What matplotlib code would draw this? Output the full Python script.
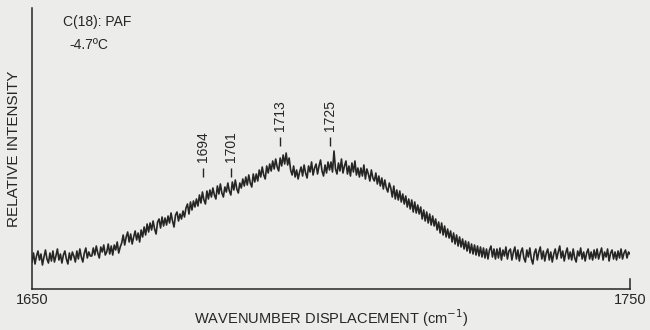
import matplotlib.pyplot as plt
import numpy as np

# DATA : spectrum, 0.25 cm-1 steps from 1650 to 1750
wavenumber = np.arange(1650, 1750.25, 0.25)
intensity = np.array([
    27, 36, 25, 33, 38, 29, 35, 24, 32, 39,        # 1650.0
    30, 26, 36, 28, 38, 27, 33, 40, 29, 35,        # 1652.5
    26, 34, 38, 30, 25, 36, 29, 37, 33, 27,        # 1655.0
    38, 30, 40, 32, 27, 36, 41, 31, 37, 33,        # 1657.5
    33, 41, 34, 43, 36, 31, 42, 37, 44, 34,        # 1660.0
    37, 45, 35, 43, 34, 44, 39, 47, 36, 42,        # 1662.5
    46, 54, 44, 52, 57, 47, 55, 45, 52, 58,        # 1665.0
    49, 56, 47, 59, 52, 62, 54, 65, 57, 66,        # 1667.5
    59, 68, 60, 55, 67, 70, 61, 72, 63, 71,        # 1670.0
    64, 73, 66, 76, 68, 62, 74, 77, 68, 75,        # 1672.5
    70, 78, 72, 81, 85, 75, 87, 79, 88, 82,        # 1675.0
    90, 83, 94, 86, 97, 89, 85, 98, 90, 99,        # 1677.5
    92, 101, 94, 90, 103, 95, 105, 96, 92, 102,    # 1680.0
    97, 106, 98, 94, 107, 99, 109, 100, 96, 106,   # 1682.5
    101, 110, 103, 112, 104, 114, 106, 102, 115, 107,  # 1685.0
    115, 108, 119, 112, 122, 114, 110, 123, 116, 125,  # 1687.5
    118, 128, 120, 130, 122, 118, 131, 123, 134, 125,  # 1690.0
    136, 124, 131, 119, 114, 123, 112, 119, 110, 117,  # 1692.5
    122, 113, 124, 116, 111, 123, 117, 127, 114, 121,  # 1695.0
    125, 115, 123, 129, 118, 113, 124, 116, 127, 119,  # 1697.5
    127, 117, 138, 120, 115, 126, 118, 130, 116, 123,  # 1700.0
    128, 115, 123, 113, 126, 117, 128, 114, 121, 112,  # 1702.5
    121, 113, 124, 110, 120, 115, 108, 119, 111, 108,  # 1705.0
    116, 105, 113, 103, 111, 100, 109, 101, 97, 106,   # 1707.5
    101, 92, 103, 90, 99, 89, 98, 87, 95, 85,      # 1710.0
    93, 82, 90, 80, 89, 77, 87, 76, 84, 75,        # 1712.5
    82, 70, 79, 68, 77, 66, 75, 64, 73, 63,        # 1715.0
    70, 59, 67, 56, 66, 54, 63, 52, 60, 51,        # 1717.5
    58, 47, 56, 45, 54, 43, 52, 42, 50, 40,        # 1720.0
    48, 38, 47, 36, 45, 35, 44, 34, 43, 33,        # 1722.5
    42, 32, 41, 31, 40, 30, 39, 43, 32, 40,        # 1725.0
    30, 40, 31, 41, 29, 39, 33, 42, 30, 38,        # 1727.5
    40, 29, 37, 42, 30, 39, 28, 37, 41, 31,        # 1730.0
    27, 39, 32, 41, 30, 25, 36, 40, 29, 37,        # 1732.5
    42, 30, 38, 28, 36, 40, 29, 37, 27, 35,        # 1735.0
    40, 30, 37, 43, 31, 38, 28, 36, 41, 30,        # 1737.5
    37, 29, 40, 31, 27, 38, 33, 41, 30, 37,        # 1740.0
    28, 36, 40, 30, 37, 29, 39, 31, 40, 30,        # 1742.5
    36, 41, 29, 37, 32, 40, 28, 36, 39, 30,        # 1745.0
    37, 29, 38, 31, 40, 30, 36, 39, 31, 37,        # 1747.5
    35])

# peak markers: where they sit on the drawn axis, and what they say
peak_x = [1678.6, 1683.3, 1691.5, 1699.8]
peak_y = [112, 112, 143, 143]
peak_labels = ["1694", "1701", "1713", "1725"]

xticks = [1650, 1750]

plt.rcParams['font.family'] = ['Liberation Sans', 'DejaVu Sans']
ink = '#262626'
paper = '#ececea'

fig = plt.figure(figsize=(6.5, 3.3), dpi=100, facecolor=paper)
ax = fig.add_axes([32/650, 41/330, 598/650, 281/330], facecolor=paper)

ax.plot(wavenumber, intensity, color=ink, lw=1.2)

# short tick under each peak label, then the number above it
ax.vlines(peak_x, peak_y, [y + 9 for y in peak_y], color=ink, lw=1.0)
for x, y, lab in zip(peak_x, peak_y, peak_labels):
    ax.text(x, y + 15, lab, rotation=90, ha='center', va='bottom',
            fontsize=10, color=ink)

ax.text(0.052, 0.975, "C(18): PAF", transform=ax.transAxes, va='top',
        fontsize=10, color=ink)
ax.text(0.063, 0.895, "-4.7ºC", transform=ax.transAxes, va='top',
        fontsize=10, color=ink)

ax.set_xlim(1650, 1750)
ax.set_ylim(0, 281)
ax.set_xticks(xticks)
ax.set_xticklabels([str(t) for t in xticks], fontsize=10.5, color=ink)
ax.set_yticks([])
ax.tick_params(axis='x', length=0, pad=3)
ax.set_xlabel("WAVENUMBER DISPLACEMENT (cm$^{-1}$)", fontsize=10.5, color=ink,
              va='center')
ax.set_ylabel("RELATIVE INTENSITY", fontsize=11, color=ink)
ax.xaxis.set_label_coords(0.5, -0.104)
ax.yaxis.set_label_coords(-0.018, 0.5)

for s in ['left', 'bottom', 'right']:
    ax.spines[s].set_color(ink)
    ax.spines[s].set_linewidth(1.1)
ax.spines['top'].set_visible(False)
ax.spines['right'].set_bounds(0, 10)

plt.savefig("out.png", dpi=100, facecolor=paper)
plt.close()
